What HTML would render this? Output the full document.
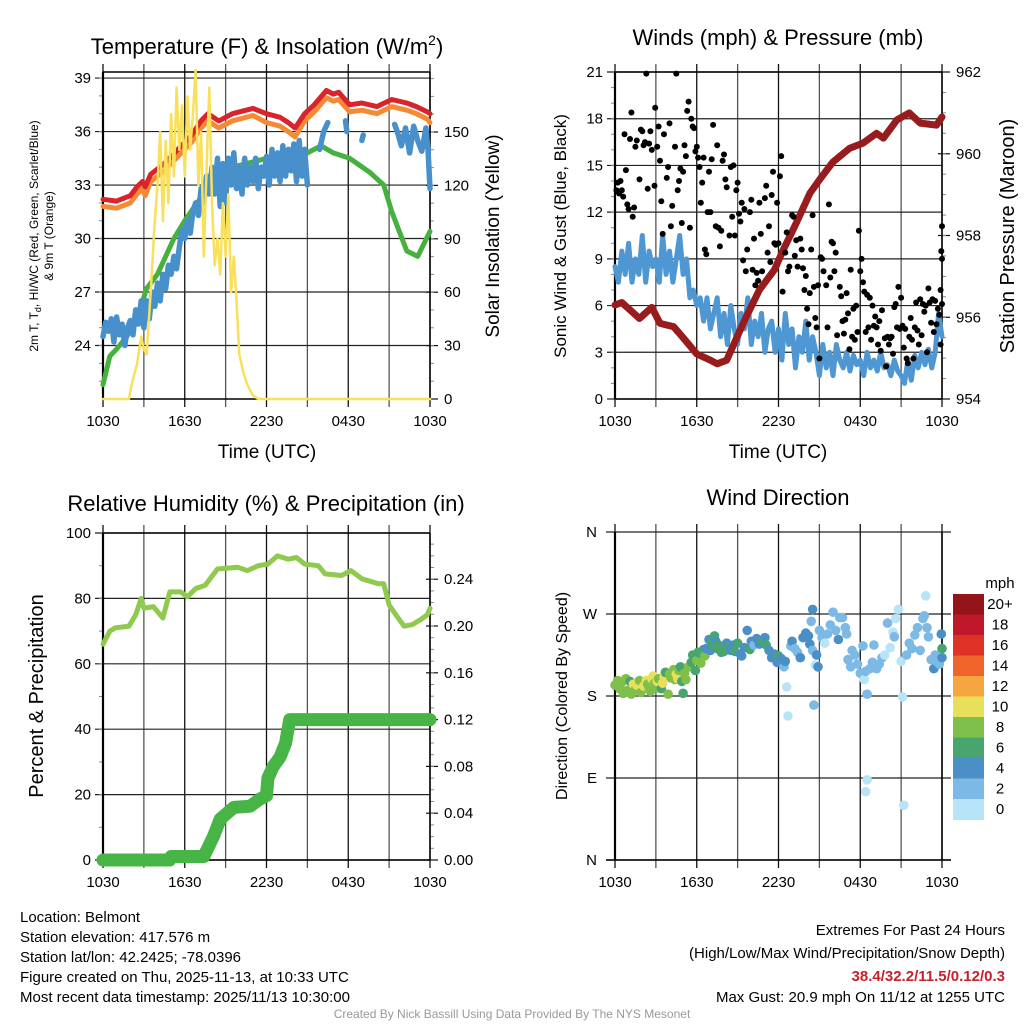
<!DOCTYPE html>
<html><head><meta charset="utf-8"><style>
html,body{margin:0;padding:0;background:#fff;}
svg{display:block;font-family:"Liberation Sans",sans-serif;}
</style></head><body>
<svg id="root" width="1024" height="1024" viewBox="0 0 1024 1024">
<text x="267" y="54" font-size="22" text-anchor="middle">Temperature (F) &amp; Insolation (W/m<tspan font-size="14" dy="-9">2</tspan><tspan dy="9">)</tspan></text>
<text x="778" y="45" font-size="22" text-anchor="middle">Winds (mph) &amp; Pressure (mb)</text>
<text x="266" y="511" font-size="22" text-anchor="middle">Relative Humidity (%) &amp; Precipitation (in)</text>
<text x="778" y="505" font-size="22" text-anchor="middle">Wind Direction</text>

<text transform="translate(38,236) rotate(-90)" font-size="12" text-anchor="middle">2m T, T<tspan font-size="9" dy="3">d</tspan><tspan dy="-3">, HI/WC (Red, Green, Scarlet/Blue)</tspan></text>
<text transform="translate(53,236) rotate(-90)" font-size="12" text-anchor="middle">&amp; 9m T (Orange)</text>
<text transform="translate(499,236) rotate(-90)" font-size="19" text-anchor="middle">Solar Insolation (Yellow)</text>
<text x="267" y="458" font-size="19" text-anchor="middle">Time (UTC)</text>
<text transform="translate(566,236) rotate(-90)" font-size="17" text-anchor="middle">Sonic Wind &amp; Gust (Blue, Black)</text>
<text transform="translate(1014,236) rotate(-90)" font-size="20" text-anchor="middle">Station Pressure (Maroon)</text>
<text x="778" y="458" font-size="19" text-anchor="middle">Time (UTC)</text>
<text transform="translate(43,696) rotate(-90)" font-size="20" text-anchor="middle">Percent &amp; Precipitation</text>
<text transform="translate(567,696) rotate(-90)" font-size="16" text-anchor="middle">Direction (Colored By Speed)</text>

<text x="1000" y="588" font-size="15" text-anchor="middle">mph</text>

<g font-size="15">
<text x="20" y="922">Location: Belmont</text>
<text x="20" y="942">Station elevation: 417.576 m</text>
<text x="20" y="962">Station lat/lon: 42.2425; -78.0396</text>
<text x="20" y="982">Figure created on Thu, 2025-11-13, at 10:33 UTC</text>
<text x="20" y="1002">Most recent data timestamp: 2025/11/13 10:30:00</text>
</g>
<g font-size="15" text-anchor="end">
<text x="1005" y="935">Extremes For Past 24 Hours</text>
<text x="1005" y="958">(High/Low/Max Wind/Precipitation/Snow Depth)</text>
<text x="1005" y="981" fill="#c8202a" font-weight="bold">38.4/32.2/11.5/0.12/0.3</text>
<text x="1005" y="1002">Max Gust: 20.9 mph On 11/12 at 1255 UTC</text>
</g>
<text x="512" y="1018" font-size="12" fill="#999" text-anchor="middle">Created By Nick Bassill Using Data Provided By The NYS Mesonet</text>
</svg>
<script>
// ---------- data ----------
const hourTicks=[0,6,12,18,24];
const hourTickLabels=["1030","1630","2230","0430","1030"];
const tempTicks=[24,27,30,33,36,39];
const insolTicks=[0,30,60,90,120,150];
const windTicks=[0,3,6,9,12,15,18,21];
const presTicks=[954,956,958,960,962];
const rhTicks=[0,20,40,60,80,100];
const precipTicks=[0,0.04,0.08,0.12,0.16,0.20,0.24];
const precipTickLabels=["0.00","0.04","0.08","0.12","0.16","0.20","0.24"];
const dirTicks=[0,90,180,270,360];
const dirTickLabels=["N","E","S","W","N"];

const redT=[0,1,2,2.5,2.9,3.1,3.5,4.5,5.5,6.5,7.2,7.7,8.5,9.5,11,12,13,13.6,14.1,14.8,15.5,16.4,16.9,17.3,18.1,19,20.1,21.2,22.3,23,23.8,24];
const redV=[32.2,32.1,32.4,32.9,33.2,32.9,33.6,34.2,35.0,35.8,36.6,37.0,36.6,37.0,37.3,37.0,36.8,36.5,36.2,37.0,37.5,38.3,38.1,38.2,37.5,37.6,37.4,37.8,37.6,37.4,37.1,37.0];
const orangeV=[31.8,31.7,32.0,32.5,32.8,32.4,33.2,33.8,34.6,35.4,36.2,36.6,36.2,36.6,36.9,36.5,36.3,36.0,35.7,36.6,37.1,37.9,37.7,37.8,37.1,37.2,37.0,37.4,37.2,37.0,36.7,36.5];
const greenT=[0,0.5,1,1.75,2.5,3.2,4,5.2,6,6.9,8,9.5,11,12,13,14,15,16,16.9,18.1,19.6,20.6,21.2,22.3,23.1,24];
const greenV=[21.8,23.4,23.8,24.5,25.5,27.2,28.0,30.0,31.0,32.0,33.0,34.0,34.3,34.5,34.6,34.5,34.8,35.2,34.8,34.5,33.7,33.0,31.5,29.3,29.0,30.4];
const blueT=[0,0.2,0.4,0.6,0.8,1,1.2,1.4,1.6,1.8,2,2.2,2.4,2.6,2.8,3,3.2,3.4,3.6,3.8,4,4.2,4.4,4.6,4.8,5,5.2,5.4,5.6,5.8,6,6.2,6.4,6.6,6.8,7,7.2,7.4,7.6,7.8,8,8.2,8.4,8.6,8.8,9,9.2,9.4,9.6,9.8,10,10.2,10.4,10.6,10.8,11,11.2,11.4,11.6,11.8,12,12.2,12.4,12.6,12.8,13,13.2,13.4,13.6,13.8,14,14.2,14.4,14.6,14.8,15,15.1,15.9,16.2,16.5,16.6,17.8,17.9,18,19.0,19.1,19.2,21.4,21.6,21.9,22.2,22.5,22.8,23.1,23.4,23.7,23.85,24];
const blueV=[24.5,25.3,24.8,25.5,24.2,25.6,24.6,25.2,24.0,25.0,25.4,24.6,26.0,25.2,26.5,25.0,26.5,25.5,27.0,26.2,27.5,26.5,28.0,27.2,28.5,28.0,29.0,28.3,29.5,30.5,30.0,31.0,30.3,31.5,32.0,31.3,32.8,32.0,33.5,32.5,34.0,32.5,34.5,31.8,34.2,32.0,34.5,33.0,34.8,32.8,34.0,32.5,34.5,33.0,34.0,33.2,34.5,32.8,34.0,33.5,34.6,33.0,35.0,33.5,34.8,33.2,35.2,33.5,35.0,33.8,35.3,33.2,35.5,33.5,35.0,33.0,null,35.0,36.0,36.5,null,36.6,36.0,null,35.5,35.8,null,36.4,36.0,35.2,36.2,34.8,36.3,35.5,34.9,36.2,35.0,32.8];
const insolT=[0,1.9,2.1,2.5,2.8,3.0,3.2,3.5,3.8,4.0,4.2,4.4,4.6,4.8,5.0,5.2,5.4,5.6,5.8,6.0,6.2,6.4,6.6,6.8,7.0,7.2,7.4,7.6,7.8,8.0,8.2,8.4,8.6,8.8,9.0,9.2,9.4,9.6,9.8,10.0,10.3,10.6,11.0,11.4,24];
const insolV=[0,0,8,20,35,28,25,60,100,120,150,100,145,110,160,125,175,140,165,125,170,140,160,185,120,150,80,130,175,110,75,90,70,110,80,115,60,80,55,25,15,8,2,0,0];

const windT=[0,0.25,0.5,0.75,1,1.25,1.5,1.75,2,2.25,2.5,2.75,3,3.25,3.5,3.75,4,4.25,4.5,4.75,5,5.25,5.5,5.75,6,6.25,6.5,6.75,7,7.25,7.5,7.75,8,8.25,8.5,8.75,9,9.25,9.5,9.75,10,10.25,10.5,10.75,11,11.25,11.5,11.75,12,12.25,12.5,12.75,13,13.25,13.5,13.75,14,14.25,14.5,14.75,15,15.25,15.5,15.75,16,16.25,16.5,16.75,17,17.25,17.5,17.75,18,18.25,18.5,18.75,19,19.25,19.5,19.75,20,20.25,20.5,20.75,21,21.25,21.5,21.75,22,22.25,22.5,22.75,23,23.25,23.5,23.75,24];
const windV=[8.5,7.5,9.5,8,10,7.5,9,8,10.5,7.5,9.5,8.5,9,7.5,10.5,8,9.5,7.5,9,10.5,8,9,6.5,7,6,6.5,5,6.5,4.5,5.5,6.5,4,5.5,3.5,6,4.5,3.5,5.5,4.5,6.5,3.5,5,4,5.5,3,4.5,5,3,4.5,2.5,5.5,3.5,4.5,2,4,3,5,2.5,4,3,1.5,3.5,2,3,1.5,3.5,2.5,2,3,1.8,2.8,2.2,2.5,1.5,3,2,2.5,1.8,3,2,2.2,1.5,2.5,1.8,1.5,1,2.5,1.2,2.8,2,3,2.2,3.2,2,3,5.5,4];
const presT=[0,0.5,1.8,2.7,3.3,4.3,5.0,6.0,7.0,7.5,8.2,9.4,10.6,11.7,12.35,13.3,14.3,15.0,16.0,17.2,18.2,19.2,19.7,20.7,21.6,22.4,23.6,24];
const presV=[956.3,956.36,955.97,956.24,955.85,955.77,955.5,955.1,954.95,954.86,954.95,955.85,956.67,957.16,957.65,958.3,959.03,959.36,959.8,960.13,960.26,960.5,960.38,960.83,961.0,960.75,960.7,960.9];
const gustPoints=[[0.1,13.4],[0.2,13.9],[0.3,13.2],[0.4,14.0],[0.5,13.4],[0.6,13.0],[0.7,17.0],[0.8,14.7],[0.9,12.5],[1.0,12.2],[1.1,16.7],[1.2,18.4],[1.3,11.7],[1.4,12.3],[1.5,16.2],[1.6,16.6],[1.8,14.1],[1.9,17.3],[2.0,17.2],[2.1,16.3],[2.2,16.5],[2.3,20.9],[2.4,13.5],[2.5,16.4],[2.6,17.2],[2.7,16.0],[2.9,13.7],[2.95,18.7],[3.1,16.2],[3.2,17.5],[3.3,15.3],[3.4,12.7],[3.5,10.6],[3.6,17.0],[3.8,14.2],[3.9,14.9],[4.0,17.7],[4.1,11.1],[4.2,12.4],[4.4,16.2],[4.5,20.9],[4.6,13.4],[4.7,14.0],[4.8,14.8],[4.9,11.3],[5.0,14.6],[5.1,16.3],[5.2,15.6],[5.3,18.5],[5.4,19.1],[5.5,11.0],[5.6,18.0],[5.7,17.5],[5.8,17.4],[5.9,15.9],[6.0,16.2],[6.1,15.5],[6.2,14.9],[6.3,12.6],[6.4,13.9],[6.5,15.5],[6.6,9.6],[6.7,9.3],[6.8,12.0],[6.9,14.6],[7.0,12.0],[7.1,15.4],[7.2,17.6],[7.4,11.1],[7.5,16.3],[7.6,11.0],[7.7,9.8],[7.8,10.8],[7.9,15.3],[8.0,15.7],[8.1,14.1],[8.2,13.6],[8.4,10.5],[8.5,14.9],[8.6,11.7],[8.7,15.0],[8.8,10.5],[8.9,13.4],[9.0,13.9],[9.1,11.9],[9.2,11.4],[9.3,12.6],[9.4,8.9],[9.5,12.2],[9.6,8.2],[9.7,9.6],[9.9,12.0],[10.0,12.8],[10.1,8.3],[10.2,10.3],[10.3,7.3],[10.4,8.1],[10.5,7.6],[10.6,12.6],[10.7,10.6],[10.8,8.2],[11.0,12.9],[11.1,13.7],[11.2,9.4],[11.3,11.1],[11.4,8.8],[11.5,13.1],[11.6,14.6],[11.7,10.0],[11.8,9.9],[11.9,12.6],[12.0,10.0],[12.1,14.3],[12.2,15.6],[12.3,6.9],[12.5,9.4],[12.6,10.7],[12.7,8.2],[12.8,8.5],[13.0,11.8],[13.1,11.7],[13.2,9.2],[13.3,10.2],[13.4,8.5],[13.6,10.3],[13.7,9.6],[13.8,8.4],[13.9,7.0],[14.0,7.9],[14.1,5.8],[14.2,4.8],[14.3,6.8],[14.4,9.6],[14.5,11.8],[14.6,7.2],[14.7,5.2],[14.8,4.6],[14.9,7.3],[15.0,2.6],[15.1,9.1],[15.2,9.0],[15.3,8.2],[15.5,7.3],[15.6,4.6],[15.7,12.5],[15.8,7.8],[15.9,10.1],[16.0,10.0],[16.1,8.2],[16.2,9.4],[16.3,4.1],[16.5,7.2],[16.6,6.6],[16.7,5.0],[16.8,4.2],[16.9,5.1],[17.0,6.8],[17.1,5.5],[17.2,3.2],[17.3,8.3],[17.4,4.0],[17.5,5.8],[17.6,3.8],[17.7,6.0],[17.8,4.3],[17.9,10.8],[18.0,8.2],[18.1,9.0],[18.2,7.5],[18.3,6.9],[18.4,4.3],[18.5,6.7],[18.6,4.6],[18.7,6.5],[18.8,3.8],[18.9,6.0],[19.0,4.7],[19.1,5.3],[19.2,4.6],[19.3,3.5],[19.4,5.0],[19.5,3.1],[19.6,5.7],[19.8,3.9],[19.9,2.1],[20.0,4.0],[20.1,3.5],[20.2,3.9],[20.3,4.0],[20.4,2.9],[20.5,5.9],[20.6,6.1],[20.7,4.6],[20.8,7.2],[20.9,4.5],[21.0,6.5],[21.1,4.7],[21.2,3.3],[21.3,4.5],[21.4,2.6],[21.5,2.3],[21.6,4.0],[21.7,5.2],[21.8,3.8],[21.9,2.6],[22.0,4.6],[22.1,6.2],[22.2,4.4],[22.3,3.5],[22.4,6.4],[22.5,4.1],[22.6,6.1],[22.7,5.6],[22.8,6.0],[22.9,3.0],[23.0,7.1],[23.1,6.2],[23.2,4.9],[23.3,6.4],[23.4,4.3],[23.5,6.3],[23.6,4.8],[23.7,5.8],[23.8,5.4],[23.9,7.0],[24.0,6.1],[23.95,9.5],[24.0,11.1],[23.9,3.5],[24.0,9.0]];

const rhT=[0,0.5,0.9,1.9,2.4,2.8,3.0,3.7,4.4,4.9,5.7,6.2,6.8,7.5,8.4,9.9,10.6,11.4,12.1,12.8,13.6,14.2,14.8,15.8,16.3,17.5,18.2,19.0,20.2,20.6,21.0,21.5,22.1,22.7,23.3,23.8,24];
const rhV=[66,70,71,71.5,75,80,77,77.5,74,82,82,80.5,83,84,89,89.5,88.5,90,90.5,93,92,92.5,90.5,90,87.5,87,88.5,86,84.5,84.5,78,75,71.5,72,73.5,75,77];
const precipT=[0,4.9,5.0,7.4,8.1,8.6,9.6,10.8,11.5,12.0,12.1,12.5,13.0,13.4,13.7,24];
const precipV=[0,0,0.003,0.003,0.02,0.035,0.045,0.046,0.052,0.055,0.07,0.08,0.088,0.1,0.12,0.12];

const dirPoints=[[0,192,8],[0.2,197,8],[0.35,188,8],[0.5,195,8],[0.6,183,8],[0.8,199,8],[0.9,186,8],[1.1,196,6],[1.2,182,8],[1.35,193,10],[1.5,187,8],[1.6,192,10],[1.8,197,8],[1.9,184,8],[2.1,191,10],[2.3,197,10],[2.4,193,8],[2.5,189,8],[2.6,185,8],[2.7,199,10],[2.8,202,10],[2.9,194,8],[3.0,189,8],[3.1,196,10],[3.2,199,8],[3.4,188,6],[3.5,194,10],[3.6,201,10],[3.7,206,6],[3.9,182,8],[4.0,204,8],[4.1,200,8],[4.3,209,8],[4.4,198,8],[4.5,204,10],[4.6,199,10],[4.7,208,8],[4.8,212,6],[4.9,196,6],[5.0,183,6],[5.1,205,8],[5.2,198,8],[5.4,212,8],[5.6,217,6],[5.7,225,6],[5.9,208,6],[6.0,219,8],[6.1,228,6],[6.3,216,8],[6.4,226,6],[6.5,231,6],[6.6,224,8],[6.7,232,4],[6.9,242,4],[7.0,230,4],[7.1,238,6],[7.2,235,6],[7.3,246,6],[7.4,240,4],[7.5,232,6],[7.6,236,6],[7.8,228,6],[7.9,234,6],[8.0,229,6],[8.2,238,4],[8.3,233,6],[8.5,230,4],[8.7,236,4],[8.8,229,6],[9.0,238,6],[9.2,226,4],[9.3,224,4],[9.5,233,4],[9.7,252,4],[9.9,231,6],[10.0,240,4],[10.2,236,2],[10.4,243,4],[10.6,237,4],[10.8,241,6],[11.0,244,4],[11.1,236,6],[11.3,230,4],[11.5,222,4],[11.7,226,4],[11.9,217,4],[12.0,224,6],[12.2,221,4],[12.4,212,2],[12.5,218,4],[12.6,190,0],[12.7,158,0],[12.9,235,2],[13.0,240,4],[13.2,232,2],[13.4,228,2],[13.6,222,4],[13.8,244,4],[14.0,249,4],[14.2,246,4],[14.3,237,4],[14.5,230,2],[14.7,214,0],[14.8,225,4],[14.9,212,4],[14.6,170,2],[14.4,262,2],[14.5,275,4],[15.0,252,2],[15.2,244,2],[15.4,238,0],[15.6,248,2],[15.8,258,2],[16.0,272,2],[16.2,252,2],[16.4,242,4],[16.5,266,2],[16.7,266,2],[16.9,255,2],[17.0,248,2],[17.1,220,2],[17.3,212,2],[17.4,230,2],[17.6,225,2],[17.8,215,2],[18.0,205,2],[18.2,235,2],[18.3,198,0],[18.4,207,2],[18.5,182,2],[18.5,88,0],[18.4,75,0],[18.7,210,2],[18.9,217,2],[19.0,236,2],[19.2,210,2],[19.4,215,2],[19.6,222,2],[19.8,225,0],[20.0,260,2],[20.2,233,0],[20.4,250,0],[20.5,245,2],[20.6,265,0],[20.8,275,0],[21.0,218,0],[21.1,179,0],[21.2,60,0],[21.4,225,2],[21.6,238,2],[21.8,232,2],[22.0,247,2],[22.2,255,2],[22.4,230,2],[22.6,265,2],[22.7,268,2],[22.8,290,0],[22.9,255,2],[23.0,245,2],[23.2,220,2],[23.4,210,4],[23.5,225,2],[23.6,218,2],[23.8,215,2],[24.0,232,6],[23.95,248,4],[24.0,222,4]];
const speedBinLabels=["0","2","4","6","8","10","12","14","16","18","20+"];
const speedBinColors=["#b8e4f7","#7db9e5","#4a8fc6","#48a570","#7ec04a","#e8e05a","#f6a641","#f0632a","#de3226","#c0182a","#931519"];

// ---------- helpers ----------
const NS="http://www.w3.org/2000/svg";
const root=document.getElementById('root');
function mk(tag,attrs,name,parent){
  const el=document.createElementNS(NS,tag);
  for(const k in attrs) el.setAttribute(k,attrs[k]);
  
  
  (parent||root).appendChild(el);
  return el;
}
function lin(d0,d1,r0,r1){return v=>r0+(v-d0)/(d1-d0)*(r1-r0);}
function pathD(xs,ys,sx,sy){
  let d="",pen=false;
  for(let i=0;i<xs.length;i++){
    if(ys[i]===null){pen=false;continue;}
    d+=(pen?"L":"M")+sx(xs[i]).toFixed(1)+","+sy(ys[i]).toFixed(1);
    pen=true;
  }
  return d;
}
function frame(p,name,opts){
  const g=mk('g',{},name+'-axes');
  const sx=p.sx;
  for(let h=0;h<=24;h+=3){
    const x=sx(h);
    mk('line',{x1:x,x2:x,y1:p.y0-8,y2:p.y1+8,stroke:(h%6==0)?'#111':'#555','stroke-width':1.3},name+'-vgrid',g);
  }
  opts.left.forEach((v,i)=>{
    const y=p.sy(v);
    const ext=opts.hExtend||0;
    mk('line',{x1:p.x0-(ext?ext:8),x2:p.x1+ext,y1:y,y2:y,stroke:'#222','stroke-width':1.2},name+'-hgrid',g);
    const t=mk('text',{x:ext?p.x0-18:p.x0-12,y:y+5,'font-size':15,'text-anchor':'end'},name+'-left-tick-label',g);
    t.textContent=opts.leftLabels?opts.leftLabels[i]:v;
  });
  if(opts.leftMinor){
    opts.leftMinor.forEach(v=>{const y=p.sy(v);mk('line',{x1:p.x0-4,x2:p.x0,y1:y,y2:y,stroke:'#888','stroke-width':1},name+'-left-minor-tick',g);});
  }
  if(opts.right){
    opts.right.forEach((v,i)=>{
      const y=opts.rsy(v);
      mk('line',{x1:p.x1-4,x2:p.x1+8,y1:y,y2:y,stroke:'#111','stroke-width':1.2},name+'-right-tick',g);
      const t=mk('text',{x:p.x1+14,y:y+5,'font-size':15},name+'-right-tick-label',g);
      t.textContent=opts.rightLabels?opts.rightLabels[i]:v;
    });
    (opts.rightMinor||[]).forEach(v=>{const y=opts.rsy(v);mk('line',{x1:p.x1,x2:p.x1+4,y1:y,y2:y,stroke:'#888','stroke-width':1},name+'-right-minor-tick',g);});
  }
  mk('line',{x1:p.x0,x2:p.x0,y1:p.y0,y2:p.y1,stroke:'#000','stroke-width':2.2},name+'-left-axis',g);
  mk('line',{x1:p.x1,x2:p.x1,y1:p.y0,y2:p.y1,stroke:'#000','stroke-width':1.5},name+'-right-axis',g);
  mk('line',{x1:p.x0-(opts.hExtend||0),x2:p.x1+(opts.hExtend||0),y1:p.y1,y2:p.y1,stroke:'#000','stroke-width':1.5},name+'-bottom-axis',g);
  if(!opts.noTop) mk('line',{x1:p.x0,x2:p.x1,y1:p.y0,y2:p.y0,stroke:'#000','stroke-width':1.5},name+'-top-axis',g);
  hourTicks.forEach((h,i)=>{
    const t=mk('text',{x:sx(h),y:p.y1+27,'font-size':15,'text-anchor':'middle'},name+'-x-tick-label',g);
    t.textContent=hourTickLabels[i];
  });
}
function range(a,b,s){const r=[];for(let v=a;v<=b+1e-9;v+=s)r.push(+v.toFixed(3));return r;}

// ---------- panel 1: temperature ----------
(function(){
  const p={x0:103,x1:430,y0:72,y1:399};
  p.sx=lin(0,24,p.x0,p.x1); p.sy=lin(21,39.34,p.y1,p.y0);
  const ry=lin(0,183.7,p.y1,p.y0);
  frame(p,'temp',{left:tempTicks,leftMinor:range(22,39,1),right:insolTicks,rsy:ry,rightMinor:range(10,180,10)});
  const g=mk('g',{fill:'none','stroke-linejoin':'round','stroke-linecap':'round'},'temp-series');
  mk('path',{d:pathD(greenT,greenV,p.sx,p.sy),stroke:'#46b13e','stroke-width':5},'dewpoint-line',g);
  mk('path',{d:pathD(blueT,blueV,p.sx,p.sy),stroke:'#4790cc','stroke-width':5.5},'heat-index-line',g);
  mk('path',{d:pathD(redT,orangeV,p.sx,p.sy),stroke:'#f68a34','stroke-width':5},'temp-9m-line',g);
  mk('path',{d:pathD(redT,redV,p.sx,p.sy),stroke:'#d8242a','stroke-width':5},'temp-2m-line',g);
  mk('path',{d:pathD(insolT,insolV,p.sx,ry),stroke:'#f9e05a','stroke-width':2.5},'insolation-line',g);
})();

// ---------- panel 2: winds ----------
(function(){
  const p={x0:615,x1:942,y0:72,y1:399};
  p.sx=lin(0,24,p.x0,p.x1); p.sy=lin(0,21,p.y1,p.y0);
  const ry=lin(954,962,p.y1,p.y0);
  frame(p,'wind',{left:windTicks,leftMinor:range(1,20,1),right:presTicks,rsy:ry,rightMinor:range(954.5,961.5,0.5)});
  const g=mk('g',{fill:'none','stroke-linejoin':'round','stroke-linecap':'round'},'wind-series');
  mk('path',{d:pathD(windT,windV,p.sx,p.sy),stroke:'#4f97d3','stroke-width':5},'sonic-wind-line',g);
  const gg=mk('g',{fill:'#000'},'gust-dots');
  gustPoints.forEach(pt=>{
    mk('circle',{cx:p.sx(pt[0]).toFixed(1),cy:p.sy(pt[1]).toFixed(1),r:3},'gust-dot',gg);
  });
  mk('path',{d:pathD(presT,presV,p.sx,ry),stroke:'#981b1e','stroke-width':7},'pressure-line',g);
})();

// ---------- panel 3: humidity ----------
(function(){
  const p={x0:103,x1:430,y0:533,y1:860};
  p.sx=lin(0,24,p.x0,p.x1); p.sy=lin(0,100,p.y1,p.y0);
  const ry=lin(0,0.2795,p.y1,p.y0);
  frame(p,'rh',{left:rhTicks,leftMinor:range(10,90,10),right:precipTicks,rightLabels:precipTickLabels,rsy:ry,rightMinor:range(0.01,0.27,0.01)});
  const g=mk('g',{fill:'none','stroke-linejoin':'round','stroke-linecap':'round'},'rh-series');
  mk('path',{d:pathD(rhT,rhV,p.sx,p.sy),stroke:'#8fca4e','stroke-width':5},'rh-line',g);
  mk('path',{d:pathD(precipT,precipV,p.sx,ry),stroke:'#47b446','stroke-width':13},'precip-line',g);
})();

// ---------- panel 4: wind direction ----------
(function(){
  const p={x0:615,x1:942,y0:532,y1:860};
  p.sx=lin(0,24,p.x0,p.x1); p.sy=lin(0,360,p.y1,p.y0);
  frame(p,'dir',{left:dirTicks,leftLabels:dirTickLabels,hExtend:9,noTop:true});
  const g=mk('g',{},'direction-dots');
  dirPoints.forEach(pt=>{
    const bin=Math.min(10,Math.floor(pt[2]/2));
    mk('circle',{cx:p.sx(pt[0]).toFixed(1),cy:p.sy(pt[1]).toFixed(1),r:4.8,fill:speedBinColors[bin]},'direction-dot',g);
  });
  const cb=mk('g',{},'speed-colorbar');
  const top=594,h=20.5;
  for(let i=0;i<11;i++){
    const k=10-i;
    mk('rect',{x:953,y:top+i*h,width:31,height:h+0.5,fill:speedBinColors[k]},'colorbar-swatch',cb);
    const t=mk('text',{x:1000,y:top+i*h+15,'font-size':15,'text-anchor':'middle'},'colorbar-label',cb);
    t.textContent=speedBinLabels[k];
  }
})();
</script>
</body></html>
